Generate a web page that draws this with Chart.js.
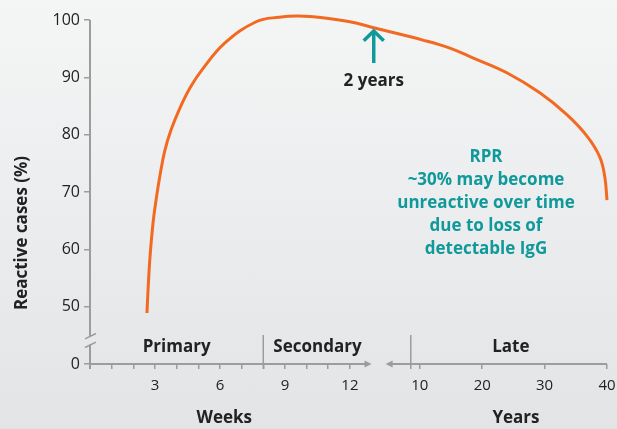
<!DOCTYPE html>
<html>
<head>
<meta charset="utf-8">
<script src="https://cdn.jsdelivr.net/npm/chart.js@4/dist/chart.umd.min.js"></script>
<style>
  html, body { margin: 0; padding: 0; }
  body { width: 617px; height: 429px; background: linear-gradient(#f4f5f5, #e3e4e6); overflow: hidden; }
  #wrap { position: relative; width: 617px; height: 429px; }
</style>
</head>
<body>
<div id="wrap"><canvas id="chart"></canvas></div>
<script>
// curve: early part in weeks, late part in years
const curveWeeks = [2.63, 2.68, 2.77, 2.91, 3.05, 3.25, 3.46, 3.74, 4.11, 4.64, 5.17, 6.23, 7.67, 8.74, 9.64, 10.75, 12.0, 13.15];
const curveWeeksValues = [48.9, 52.9, 58.7, 64.6, 68.6, 73.3, 77.3, 80.8, 84.3, 88.3, 91.3, 96.0, 99.7, 100.5, 100.7, 100.4, 99.7, 98.6];
const curveYears = [10.48, 14.81, 18.49, 23.94, 29.23, 33.56, 36.76, 38.85, 39.65, 40];
const curveYearsValues = [96.5, 95.1, 93.4, 90.8, 87.3, 83.5, 79.8, 76.1, 72.6, 68.6];

// axis ticks
const weekTicks = [0, 1, 2, 3, 4, 5, 6, 7, 8, 9, 10, 11, 12];
const weekLabels = [3, 6, 9, 12];
const yearTicks = [10, 20, 30, 40];
const yTicks = [40, 50, 60, 70, 80, 90, 100];
const yTickLabels = ['0', '50', '60', '70', '80', '90', '100'];

// phases along the x axis
const phases = ['Primary', 'Secondary', 'Late'];
const rprNote = ['RPR', '~30% may become', 'unreactive over time', 'due to loss of', 'detectable IgG'];

// broken x axis: years are placed after the weeks on the same linear scale
const YEAR_OFFSET = 15.23;
const YEAR_SCALE = 0.288;
const yearToAxis = yr => YEAR_OFFSET + (yr - 10) * YEAR_SCALE;

const points = curveWeeks.map((w, i) => ({ x: w, y: curveWeeksValues[i] }))
  .concat(curveYears.map((yr, i) => ({ x: yearToAxis(yr), y: curveYearsValues[i] })));

const xTickValues = weekTicks.concat(yearTicks.map(yearToAxis));
const xTickText = weekTicks.map(w => weekLabels.includes(w) ? String(w) : '')
  .concat(yearTicks.map(String));

const gray = '#9c9c9c';
const teal = '#10999a';
const dark = '#222222';

function line(ctx, x1, y1, x2, y2) {
  ctx.beginPath();
  ctx.moveTo(x1, y1);
  ctx.lineTo(x2, y2);
  ctx.stroke();
}

const decorations = {
  id: 'decorations',
  afterDraw(chart) {
    const ctx = chart.ctx;
    const x = chart.scales.x, y = chart.scales.y;
    const x0 = x.getPixelForValue(0);
    const yBottom = y.getPixelForValue(40);
    ctx.save();

    // y axis with break
    ctx.strokeStyle = gray;
    ctx.lineWidth = 2;
    const brk = y.getPixelForValue(44.1);
    line(ctx, x0, y.getPixelForValue(100), x0, brk - 4.3);
    line(ctx, x0, brk + 4.3, x0, yBottom + 5);
    ctx.lineWidth = 1.5;
    line(ctx, x0 - 5, brk - 1.6, x0 + 6, brk - 7);
    line(ctx, x0 - 5, brk + 7, x0 + 6, brk + 1.6);

    // x axis, weeks part with arrow
    ctx.lineWidth = 2;
    const wEnd = x.getPixelForValue(13.0);
    line(ctx, x0, yBottom, wEnd - 5, yBottom);
    ctx.fillStyle = gray;
    ctx.beginPath();
    ctx.moveTo(wEnd, yBottom);
    ctx.lineTo(wEnd - 7, yBottom - 3.5);
    ctx.lineTo(wEnd - 7, yBottom + 3.5);
    ctx.closePath();
    ctx.fill();

    // x axis, years part with arrow
    const yStart = x.getPixelForValue(13.65);
    const xEnd = x.getPixelForValue(yearToAxis(40));
    line(ctx, yStart + 5, yBottom, xEnd, yBottom);
    ctx.beginPath();
    ctx.moveTo(yStart, yBottom);
    ctx.lineTo(yStart + 7, yBottom - 3.5);
    ctx.lineTo(yStart + 7, yBottom + 3.5);
    ctx.closePath();
    ctx.fill();

    // phase separators
    const sep1 = x.getPixelForValue(8);
    const sep2 = x.getPixelForValue(14.81);
    ctx.lineWidth = 1.5;
    line(ctx, sep1, yBottom - 29, sep1, yBottom + 5);
    line(ctx, sep2, yBottom - 29, sep2, yBottom + 5);

    // phase names
    ctx.fillStyle = dark;
    ctx.font = 'bold 17px "Open Sans"';
    ctx.textAlign = 'center';
    ctx.textBaseline = 'middle';
    const phaseY = yBottom - 17;
    ctx.fillText(phases[0], (x0 + sep1) / 2, phaseY);
    ctx.fillText(phases[1], (sep1 + wEnd) / 2, phaseY);
    ctx.fillText(phases[2], (sep2 + xEnd) / 2 + 2, phaseY);

    // axis titles
    ctx.fillText('Weeks', x.getPixelForValue(6.2), 418);
    ctx.fillText('Years', x.getPixelForValue(yearToAxis(25.4)), 418);
    ctx.save();
    ctx.translate(22, 233);
    ctx.rotate(-Math.PI / 2);
    ctx.fillText('Reactive cases (%)', 0, 0);
    ctx.restore();

    // "2 years" marker
    const ax = x.getPixelForValue(13.1);
    ctx.strokeStyle = teal;
    ctx.lineWidth = 3.5;
    ctx.lineJoin = 'miter';
    line(ctx, ax, y.getPixelForValue(92.5), ax, y.getPixelForValue(97.8));
    ctx.beginPath();
    ctx.moveTo(ax - 10, y.getPixelForValue(96.4));
    ctx.lineTo(ax, y.getPixelForValue(98.1));
    ctx.lineTo(ax + 10, y.getPixelForValue(96.4));
    ctx.stroke();
    ctx.fillStyle = dark;
    ctx.fillText('2 years', ax, y.getPixelForValue(89.4));

    // RPR note
    ctx.fillStyle = teal;
    rprNote.forEach((t, i) => ctx.fillText(t, 486, 157 + i * 23));

    ctx.restore();
  }
};

new Chart(document.getElementById('chart'), {
  type: 'line',
  data: {
    datasets: [{
      data: points,
      borderColor: '#f26a21',
      borderWidth: 3,
      pointRadius: 0,
      tension: 0.4,
      clip: false
    }]
  },
  options: {
    responsive: true,
    maintainAspectRatio: false,
    animation: false,
    layout: { padding: { top: 14.3, right: 0, bottom: 0, left: 0 } },
    plugins: { legend: { display: false }, tooltip: { enabled: false } },
    scales: {
      x: {
        type: 'linear',
        min: 0,
        max: yearToAxis(40),
        afterBuildTicks: s => { s.ticks = xTickValues.map(v => ({ value: v })); },
        afterFit: s => { s.height = 65; s.paddingLeft = 0; s.paddingRight = 10; },
        border: { display: false },
        grid: { drawOnChartArea: false, drawTicks: true, tickLength: 5, color: gray, lineWidth: 1.5 },
        ticks: {
          autoSkip: false,
          maxRotation: 0,
          padding: 8,
          color: dark,
          font: { family: 'Open Sans', size: 15 },
          callback: (v, i) => xTickText[i]
        }
      },
      y: {
        min: 40,
        max: 101,
        afterBuildTicks: s => { s.ticks = yTicks.map(v => ({ value: v })); },
        afterFit: s => { s.width = 90; },
        border: { display: false },
        grid: { drawOnChartArea: false, drawTicks: true, tickLength: 6, color: gray, lineWidth: 1.5 },
        ticks: {
          padding: 4,
          color: dark,
          font: { family: 'Open Sans', size: 16 },
          callback: (v, i) => yTickLabels[i]
        }
      }
    }
  },
  plugins: [decorations]
});
</script>
</body>
</html>
